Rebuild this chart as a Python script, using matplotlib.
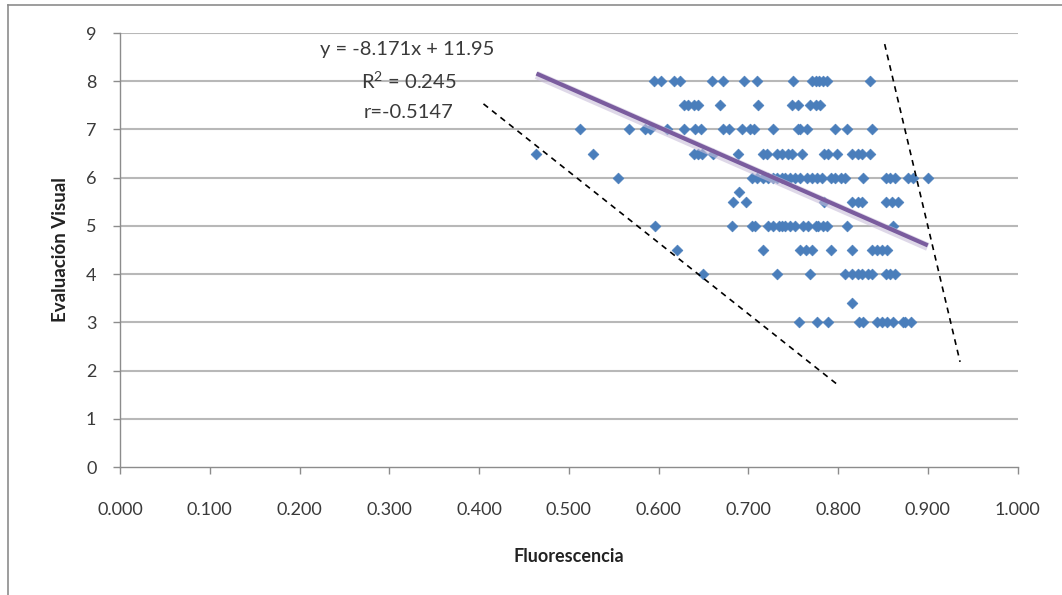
import numpy as np
import matplotlib
matplotlib.use("Agg")
import matplotlib.pyplot as plt
from matplotlib.lines import Line2D

# ---------------- data ----------------
x_8 = [0.595, 0.603, 0.617, 0.624, 0.660, 0.672, 0.695, 0.710, 0.750,
       0.771, 0.775, 0.779, 0.783, 0.788, 0.836]
x_7_5 = [0.628, 0.633, 0.639, 0.644, 0.669, 0.711, 0.749, 0.755, 0.769,
         0.775, 0.780]
x_7 = [0.513, 0.567, 0.585, 0.591, 0.610, 0.628, 0.641, 0.647, 0.672, 0.678,
       0.693, 0.702, 0.706, 0.728, 0.755, 0.758, 0.766, 0.797, 0.810, 0.838]
x_6_5 = [0.464, 0.527, 0.639, 0.644, 0.649, 0.661, 0.689, 0.716, 0.721,
         0.732, 0.738, 0.744, 0.749, 0.760, 0.784, 0.789, 0.799, 0.816,
         0.822, 0.827, 0.836]
x_6 = [0.555, 0.704, 0.710, 0.716, 0.722, 0.728, 0.732, 0.738, 0.741, 0.747,
       0.752, 0.758, 0.766, 0.771, 0.777, 0.782, 0.792, 0.797, 0.803, 0.808,
       0.828, 0.853, 0.858, 0.864, 0.878, 0.884, 0.900]
x_5_7 = [0.690]
x_5_5 = [0.683, 0.697, 0.784, 0.816, 0.822, 0.827, 0.853, 0.860, 0.867]
x_5 = [0.596, 0.682, 0.704, 0.708, 0.722, 0.728, 0.734, 0.738, 0.741, 0.747,
       0.752, 0.761, 0.767, 0.775, 0.778, 0.783, 0.788, 0.810, 0.861]
x_4_5 = [0.621, 0.716, 0.758, 0.764, 0.771, 0.792, 0.816, 0.838, 0.844,
         0.849, 0.855]
x_4 = [0.650, 0.732, 0.769, 0.808, 0.816, 0.822, 0.827, 0.833, 0.838, 0.853,
       0.858, 0.864]
x_3_4 = [0.816]
x_3 = [0.756, 0.777, 0.789, 0.823, 0.828, 0.844, 0.849, 0.855, 0.861, 0.872,
       0.875, 0.881]

levels = [8, 7.5, 7, 6.5, 6, 5.7, 5.5, 5, 4.5, 4, 3.4, 3]
rows = [x_8, x_7_5, x_7, x_6_5, x_6, x_5_7, x_5_5, x_5, x_4_5, x_4, x_3_4, x_3]

# trendline (Excel) coefficients and labels
slope, intercept = -8.171, 11.95
eq_text = "y = -8.171x + 11.95"
r2_text = "R$^2$ = 0.245"
r_text = "r=-0.5147"

# hand-drawn dashed guide lines (endpoints in data units)
guide_lo_x = [0.405, 0.800]
guide_lo_y = [7.53, 1.70]
guide_hi_x = [0.852, 0.936]
guide_hi_y = [8.77, 2.18]

x_ticks = [0.0, 0.1, 0.2, 0.3, 0.4, 0.5, 0.6, 0.7, 0.8, 0.9, 1.0]
y_ticks = list(range(0, 10))
x_label = "Fluorescencia"
y_label = "Evaluación Visual"

# ---------------- figure ----------------
plt.rcParams['font.family'] = ['Lato', 'DejaVu Sans']
plt.rcParams['mathtext.fontset'] = 'custom'
plt.rcParams['mathtext.rm'] = 'Lato'
W, H = 1062, 595
fig = plt.figure(figsize=(W / 100, H / 100), dpi=100)
ax = fig.add_axes([120 / W, 1 - 467 / H, (1017.5 - 120) / W, (467 - 33) / H])

grid_c = "#B8B8B8"
for v in y_ticks[1:]:
    ax.axhline(v, color=grid_c, lw=1.5, zorder=0)

xs = np.concatenate([np.asarray(r, float) for r in rows])
ys = np.concatenate([np.full(len(r), lv, float) for r, lv in zip(rows, levels)])
ax.scatter(xs, ys, marker='D', s=30, color='#4A7EBB', edgecolors='#4A7EBB',
           linewidths=0.5, zorder=3)

# trendline over data range
tx = np.array([xs.min(), xs.max()])
ty = slope * tx + intercept
ax.plot(tx, ty - 0.03, color='#C9BEDA', lw=6, alpha=0.6, zorder=3.5,
        solid_capstyle='butt')
ax.plot(tx, ty, color='#7A5C9E', lw=3, zorder=4, solid_capstyle='butt')

# dashed guides
for gx, gy in ((guide_lo_x, guide_lo_y), (guide_hi_x, guide_hi_y)):
    ax.plot(gx, gy, color='black', lw=1.2, dashes=(3.5, 3), zorder=5)

# annotations
txt_c = '#3A3A3A'
ax.text(0.320, 8.65, eq_text, ha='center', va='center', fontsize=14.5,
        color=txt_c, zorder=6)
ax.text(0.322, 8.0, r2_text, ha='center', va='center', fontsize=14.5,
        color=txt_c, zorder=6)
ax.text(0.322, 7.36, r_text, ha='center', va='center', fontsize=14.5,
        color=txt_c, zorder=6)

ax.set_xlim(0, 1.0)
ax.set_ylim(0, 9)
ax.set_xticks(x_ticks)
ax.set_xticklabels([f"{t:.3f}" for t in x_ticks])
ax.set_yticks(y_ticks)
ax.set_yticklabels([str(t) for t in y_ticks])

for s in ('top', 'right'):
    ax.spines[s].set_visible(False)
for s in ('left', 'bottom'):
    ax.spines[s].set_color('#8C8C8C')
    ax.spines[s].set_linewidth(1.0)
ax.tick_params(axis='both', colors='#8C8C8C', length=5, width=1.0,
               labelcolor=txt_c, labelsize=13)
ax.tick_params(axis='x', pad=20)
ax.tick_params(axis='y', pad=12)

ax.set_xlabel(x_label, fontsize=13, fontweight='bold', color='#222222',
              labelpad=22)
ax.set_ylabel(y_label, fontsize=13.5, fontweight='bold', color='#222222',
              labelpad=12)

# chart-area border (left and top edges)
fig.add_artist(Line2D([8 / W, 8 / W], [0, 1 - 5 / H], transform=fig.transFigure,
                      color='#8C8C8C', lw=1.2))
fig.add_artist(Line2D([8 / W, 1], [1 - 5 / H, 1 - 5 / H], transform=fig.transFigure,
                      color='#8C8C8C', lw=1.2))

fig.savefig("out.png", dpi=100)
